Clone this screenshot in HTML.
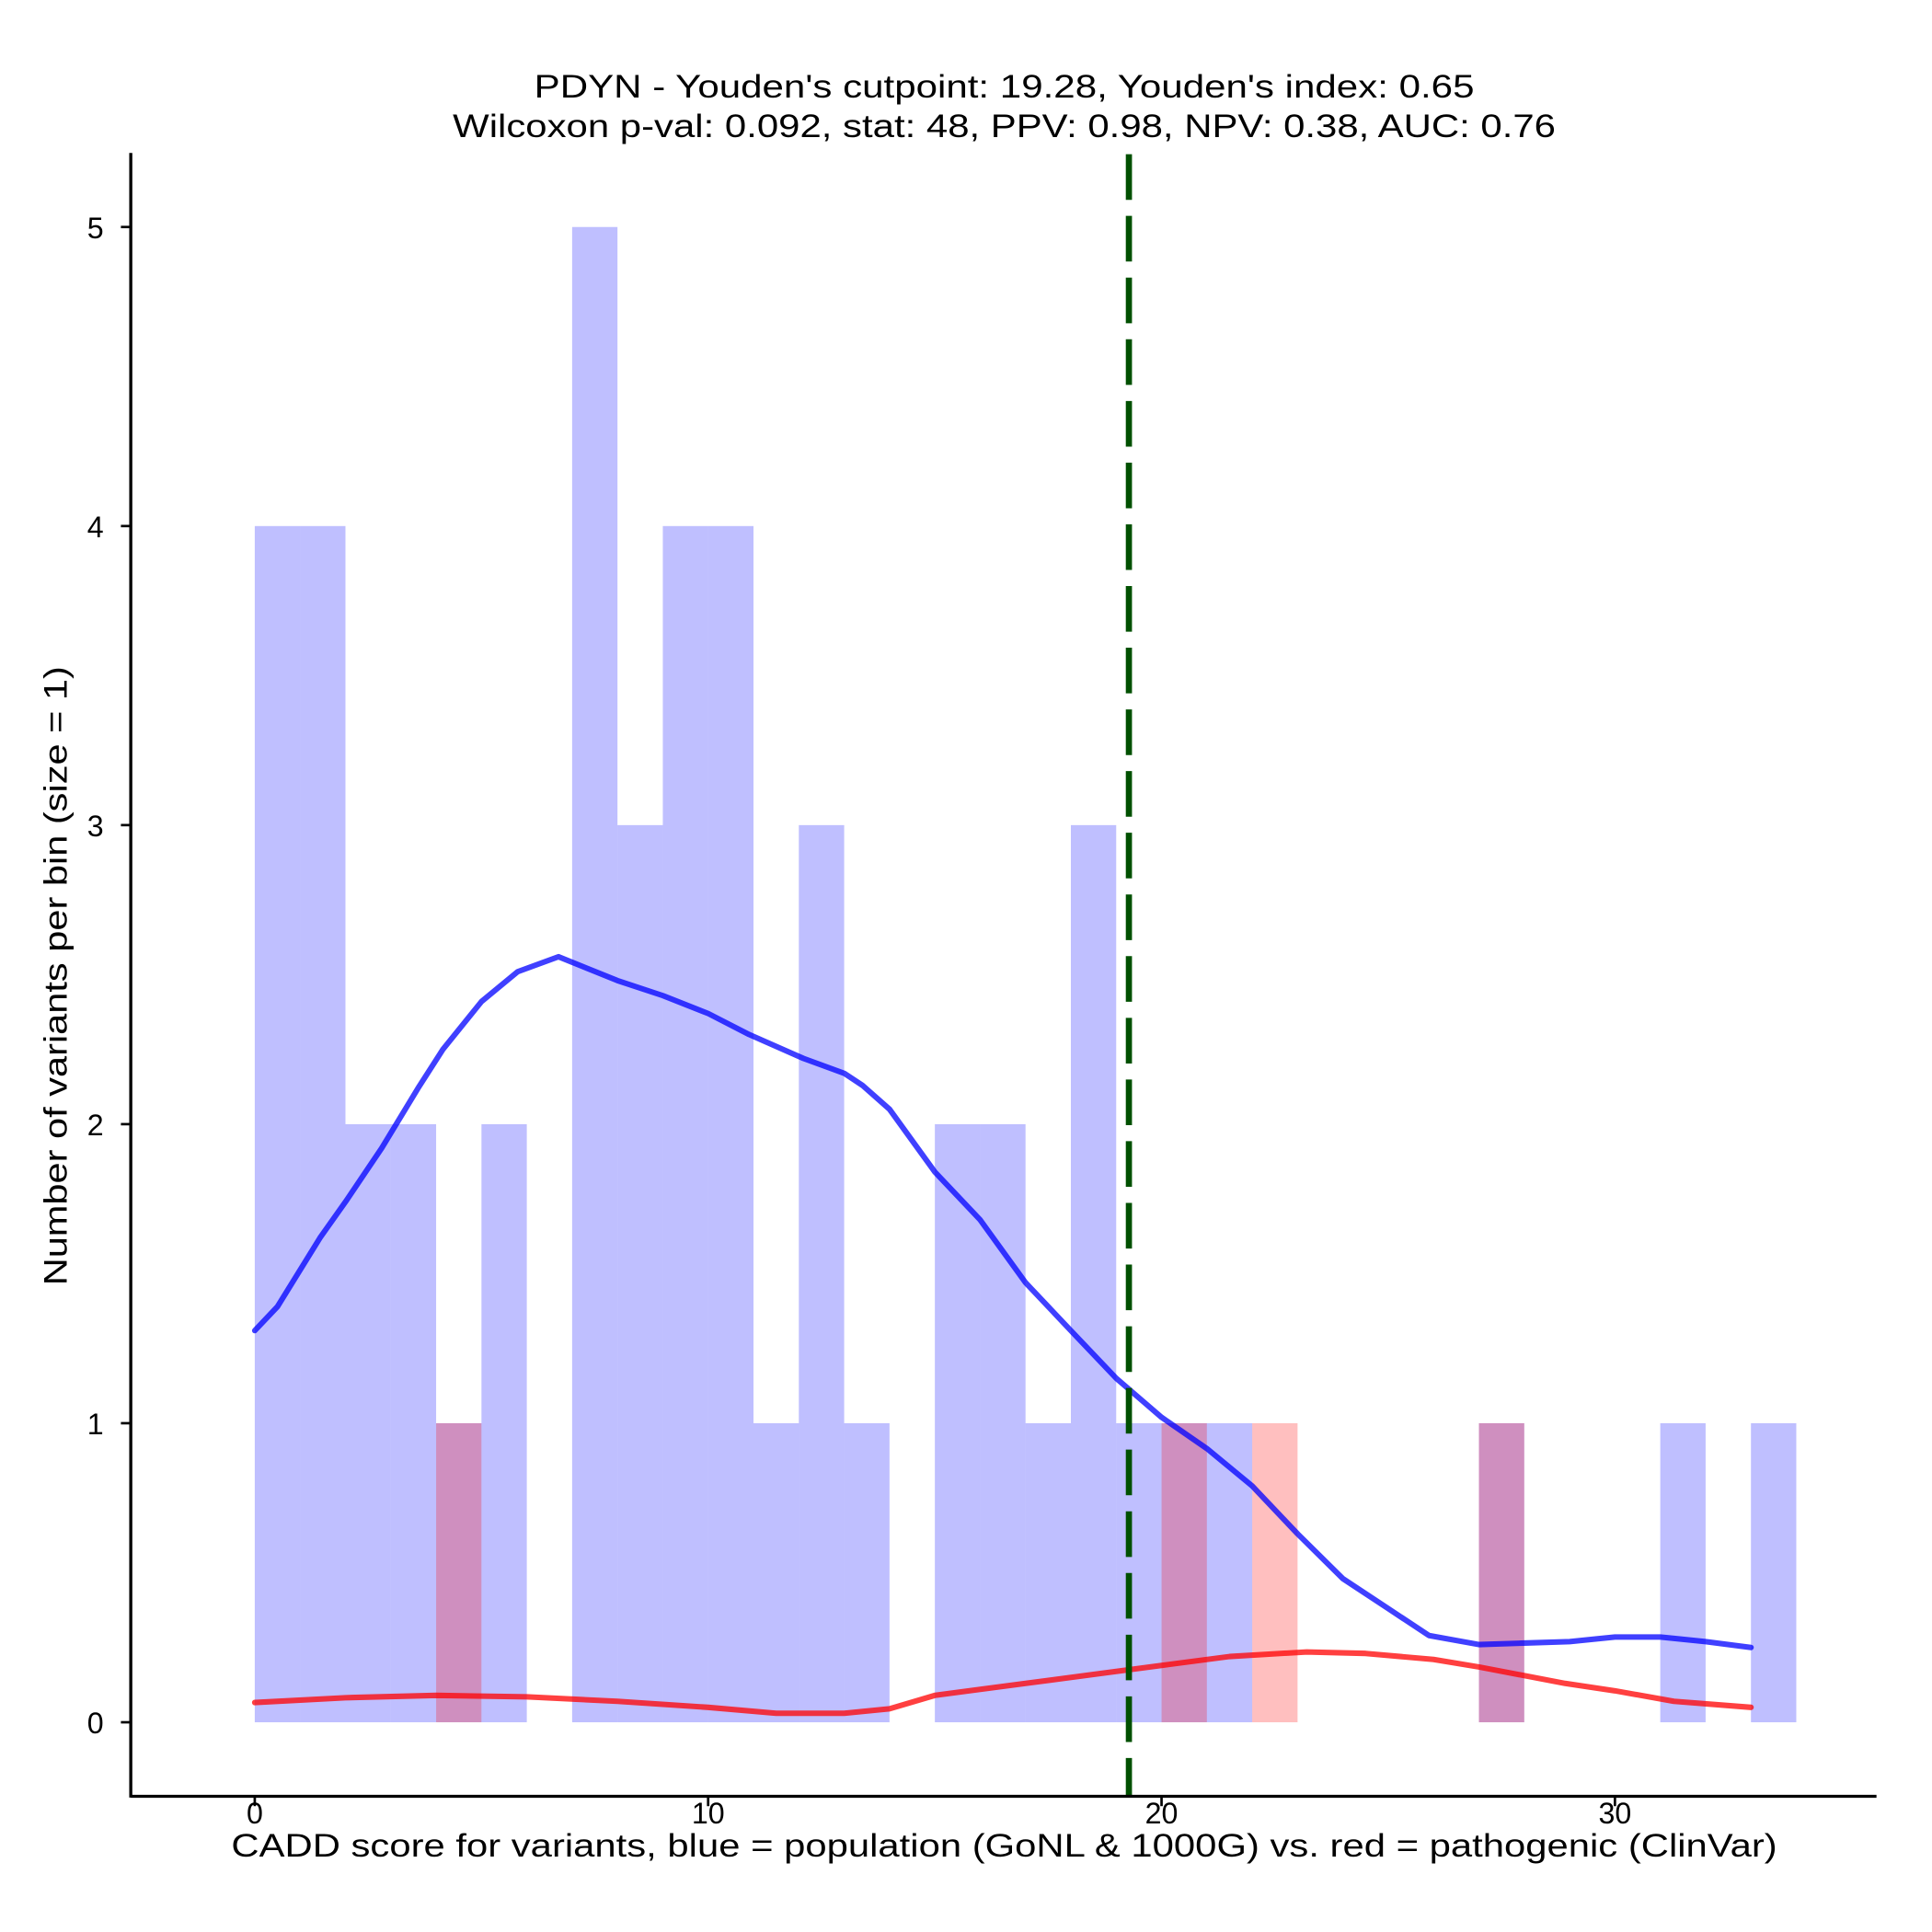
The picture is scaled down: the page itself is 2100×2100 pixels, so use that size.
<!DOCTYPE html>
<html><head><meta charset="utf-8"><style>html,body{margin:0;padding:0;background:#fff}svg{display:block}text{font-family:"Liberation Sans",Arial,sans-serif;fill:#000}</style></head>
<body>
<svg id="chart" width="2100" height="2100" viewBox="0 0 1566 1566" xmlns="http://www.w3.org/2000/svg">
<text x="814" y="79" font-size="26" text-anchor="middle" textLength="762" lengthAdjust="spacingAndGlyphs">PDYN - Youden's cutpoint: 19.28, Youden's index: 0.65</text>
<text x="814" y="111" font-size="26" text-anchor="middle" textLength="894" lengthAdjust="spacingAndGlyphs">Wilcoxon p-val: 0.092, stat: 48, PPV: 0.98, NPV: 0.38, AUC: 0.76</text>
<g id="bars"></g>
<g id="curves"></g>
<g id="axes"></g>
<text x="814" y="1505" font-size="26" text-anchor="middle" textLength="1253" lengthAdjust="spacingAndGlyphs">CADD score for variants, blue = population (GoNL &amp; 1000G) vs. red = pathogenic (ClinVar)</text>
<text transform="translate(54,791) rotate(-90)" font-size="26" text-anchor="middle" textLength="502" lengthAdjust="spacingAndGlyphs">Number of variants per bin (size = 1)</text>
</svg>
<script>
const binStarts = [0,1,2,3,4,5,6,7,8,9,10,11,12,13,14,15,16,17,18,19,20,21,22,23,24,25,26,27,28,29,30,31,32,33];
const popCounts = [4,4,2,2,1,2,0,5,3,4,4,1,3,1,0,2,2,1,3,1,1,1,0,0,0,0,0,1,0,0,0,1,0,1];
const pathCounts = [0,0,0,0,1,0,0,0,0,0,0,0,0,0,0,0,0,0,0,0,1,0,1,0,0,0,0,1,0,0,0,0,0,0];
const popDensX = [0,0.5,1.44,2,2.8,3.6,4.15,5,5.8,6.7,8,9,10,10.9,12.1,13,13.4,14,15,16,17,18,19,20,21,22,23,24,25,25.9,27,28,29,30,31,32,33];
const popDensY = [1.31,1.39,1.62,1.74,1.92,2.12,2.25,2.41,2.51,2.56,2.48,2.43,2.37,2.30,2.22,2.17,2.13,2.05,1.84,1.68,1.47,1.31,1.15,1.02,0.915,0.79,0.63,0.48,0.38,0.29,0.26,0.265,0.27,0.285,0.285,0.27,0.25];
const pathDensX = [0,2,4,6,8,10,11.5,13,14,15,16,17,18.5,20,21.5,23.2,24.5,26,27,28.9,30,31.3,33];
const pathDensY = [0.066,0.082,0.09,0.085,0.07,0.05,0.03,0.03,0.045,0.09,0.11,0.13,0.16,0.19,0.22,0.235,0.23,0.21,0.185,0.13,0.105,0.07,0.05];
const xTicks = [0,10,20,30];
const yTicks = [0,1,2,3,4,5];
const cutpoint = 19.28;

const NS='http://www.w3.org/2000/svg';
const X = v => 206.5 + v*36.75;
const Y = v => 1396 - v*242.4;
function mk(tag, attrs, parent){const e=document.createElementNS(NS,tag);for(const k in attrs)e.setAttribute(k,attrs[k]);parent.appendChild(e);return e;}
const bars=document.getElementById('bars'), curves=document.getElementById('curves'), axes=document.getElementById('axes');
binStarts.forEach((b,i)=>{
  if(popCounts[i]>0){const r=mk('rect',{x:X(b),y:Y(popCounts[i]),width:X(b+1)-X(b),height:Y(0)-Y(popCounts[i]),fill:'rgb(0,0,255)','fill-opacity':0.25},bars);
  
  }
  if(pathCounts[i]>0){const r=mk('rect',{x:X(b),y:Y(pathCounts[i]),width:X(b+1)-X(b),height:Y(0)-Y(pathCounts[i]),fill:'rgb(255,0,0)','fill-opacity':0.25},bars);
  
  }
});
function line(xs,ys,color,name){
  const d=xs.map((x,i)=>(i?'L':'M')+X(x).toFixed(1)+','+Y(ys[i]).toFixed(1)).join(' ');
  const p=mk('path',{d:d,fill:'none',stroke:color,'stroke-width':4.5,'stroke-opacity':0.75,'stroke-linejoin':'round','stroke-linecap':'round'},curves);
  
  
}
line(popDensX,popDensY,'#0000ff','population-density-line');
line(pathDensX,pathDensY,'#ff0000','pathogenic-density-line');
const cut=mk('line',{x1:X(cutpoint),x2:X(cutpoint),y1:125,y2:1456,stroke:'#005000','stroke-width':5,'stroke-dasharray':'37,13'},curves);


const xa=mk('line',{x1:106,x2:1521,y1:1456,y2:1456,stroke:'#000','stroke-width':2.5},axes);


const ya=mk('line',{x1:106,x2:106,y1:124,y2:1457,stroke:'#000','stroke-width':2.5},axes);


xTicks.forEach(t=>{
  const l=mk('line',{x1:X(t),x2:X(t),y1:1456,y2:1464,stroke:'#000','stroke-width':2},axes);
  
  
  const tx=mk('text',{x:X(t),y:1478,'font-size':24,'text-anchor':'middle'},axes);
  tx.textContent=t;
  
  
});
yTicks.forEach(t=>{
  const l=mk('line',{x1:98,x2:106,y1:Y(t),y2:Y(t),stroke:'#000','stroke-width':2},axes);
  
  
  const tx=mk('text',{x:84,y:Y(t)+9,'font-size':24,'text-anchor':'end'},axes);
  tx.textContent=t;
  
  
});
</script>
</body></html>
